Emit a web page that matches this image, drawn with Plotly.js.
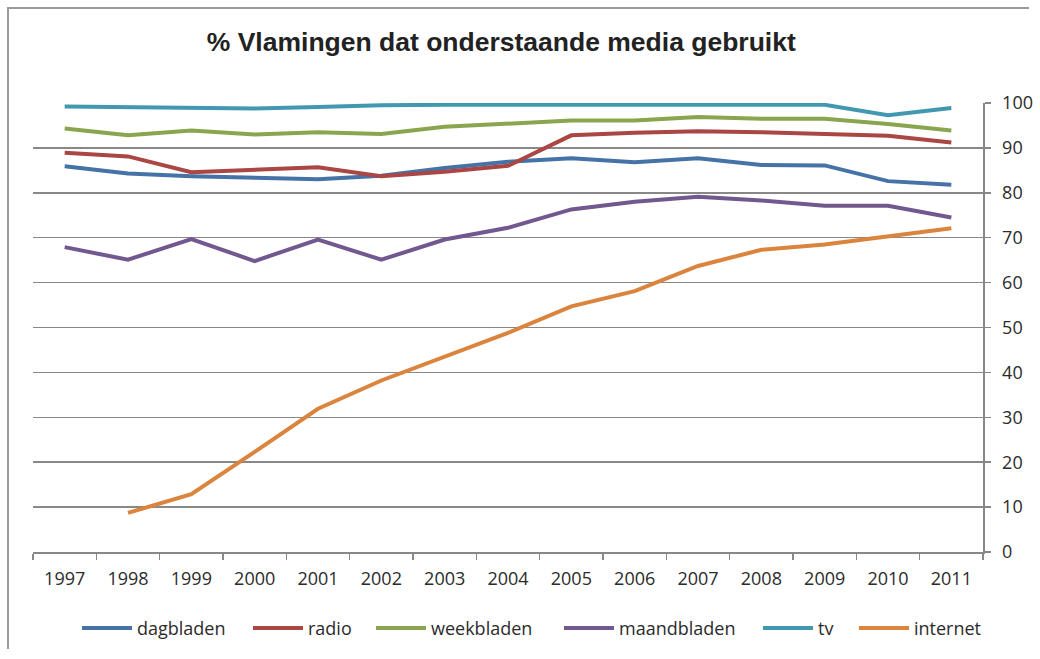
<!DOCTYPE html>
<html>
<head>
<meta charset="utf-8">
<script src="https://cdn.plot.ly/plotly-3.0.1.min.js"></script>
<style>
  html, body { margin: 0; background: #ffffff; overflow: hidden; }
  #chart-frame {
    position: absolute; left: 7px; top: 7px; width: 1020px; height: 640px;
    border-top: 2px solid #9a9a9a; border-left: 2px solid #9a9a9a;
  }
  #media-graph { position: absolute; left: 0; top: 0; width: 1040px; height: 659px; }
</style>
</head>
<body>
<div id="chart-frame"></div>
<div id="media-graph"></div>
<script>
let years = ["1997", "1998", "1999", "2000", "2001", "2002", "2003", "2004",
             "2005", "2006", "2007", "2008", "2009", "2010", "2011"];

let dagbladen = [85.9, 84.3, 83.7, 83.3, 83.0, 83.8, 85.5, 86.9, 87.7, 86.8, 87.7, 86.2, 86.1, 82.6, 81.8];
let radio = [88.9, 88.1, 84.6, 85.1, 85.7, 83.7, 84.7, 86.0, 92.8, 93.4, 93.7, 93.5, 93.2, 92.7, 91.2];
let weekbladen = [94.3, 92.8, 93.9, 93.0, 93.5, 93.1, 94.7, 95.5, 96.1, 96.1, 96.9, 96.5, 96.5, 95.3, 93.9];
let maandbladen = [67.9, 65.1, 69.7, 64.8, 69.6, 65.1, 69.6, 72.2, 76.3, 78.0, 79.1, 78.3, 77.1, 77.1, 74.5];
let tv = [99.2, 99.0, 99.0, 98.8, 99.1, 99.5, 99.6, 99.6, 99.6, 99.6, 99.6, 99.6, 99.6, 97.3, 98.9];
// internet werd in 1997 nog niet gemeten
let internet = [null, 8.7, 12.9, 22.3, 31.9, 38.2, 43.6, 48.8, 54.7, 58.1, 63.7, 67.3, 68.5, 70.2, 72.1];

let series_names = ["dagbladen", "radio", "weekbladen", "maandbladen", "tv", "internet"];
let series_values = [dagbladen, radio, weekbladen, maandbladen, tv, internet];
let series_colors = ["#4572A7", "#AA4643", "#89A54E", "#71588F", "#4198AF", "#DB843D"];

let grid_grey = "#888888";
let text_grey = "#2b2b2b";

// plot area in pixels (zelfde als margins hieronder)
let plot_left = 33;
let plot_width = 950;
// waar elke legenda-lijn begint (px), zoals in het origineel
let legend_starts = [82, 253, 376, 564, 763, 859];

function legendId(i) {
    return i === 0 ? 'legend' : 'legend' + (i + 1);
}

function makeTrace(i) {
    return {
        x: years,
        y: series_values[i],
        type: 'scatter',
        mode: 'lines',
        name: series_names[i],
        legend: legendId(i),
        line: { color: series_colors[i], width: 4 },
        connectgaps: false,
        hoverinfo: 'x+y+name'
    };
}

function makeLegend(i) {
    return {
        orientation: 'h',
        x: (legend_starts[i] - plot_left - 5) / plot_width,
        xanchor: 'left',
        y: -0.17,
        yanchor: 'middle',
        itemwidth: 50,
        bgcolor: 'rgba(0,0,0,0)',
        font: { size: 18, color: text_grey },
        itemclick: false,
        itemdoubleclick: false
    };
}

function paintGraph() {
    let data = series_names.map((_, i) => makeTrace(i));

    let layout = {
        width: 1040,
        height: 659,
        paper_bgcolor: 'rgba(0,0,0,0)',
        plot_bgcolor: 'rgba(0,0,0,0)',
        margin: { l: plot_left, r: 1040 - plot_left - plot_width, t: 103, b: 107 },
        font: { family: 'Open Sans, sans-serif', size: 18, color: text_grey },
        title: {
            text: '% Vlamingen dat onderstaande media gebruikt',
            font: { family: 'Liberation Sans, Arial, sans-serif', size: 26.5, color: '#222222', weight: 'bold' },
            x: 0.482,
            xanchor: 'center',
            y: 1 - 42 / 659,
            yanchor: 'middle'
        },
        xaxis: {
            type: 'category',
            range: [-0.5, 14.5],
            tickson: 'boundaries',
            ticks: 'outside',
            ticklen: 6,
            tickcolor: grid_grey,
            tickwidth: 1.5,
            ticklabelstandoff: 10,
            showline: true,
            linecolor: grid_grey,
            linewidth: 1.5,
            showgrid: false,
            zeroline: false,
            fixedrange: true
        },
        yaxis: {
            side: 'right',
            range: [0, 100],
            dtick: 10,
            ticks: 'outside',
            ticklen: 6,
            tickcolor: grid_grey,
            tickwidth: 1.5,
            ticklabelstandoff: 8,
            showline: true,
            linecolor: grid_grey,
            linewidth: 1.5,
            gridcolor: grid_grey,
            gridwidth: 1.5,
            zeroline: false,
            fixedrange: true
        },
        showlegend: true
    };

    series_names.forEach((_, i) => {
        layout[legendId(i)] = makeLegend(i);
    });

    Plotly.newPlot('media-graph', data, layout, { displayModeBar: false, staticPlot: true });
}

paintGraph();
</script>
</body>
</html>
